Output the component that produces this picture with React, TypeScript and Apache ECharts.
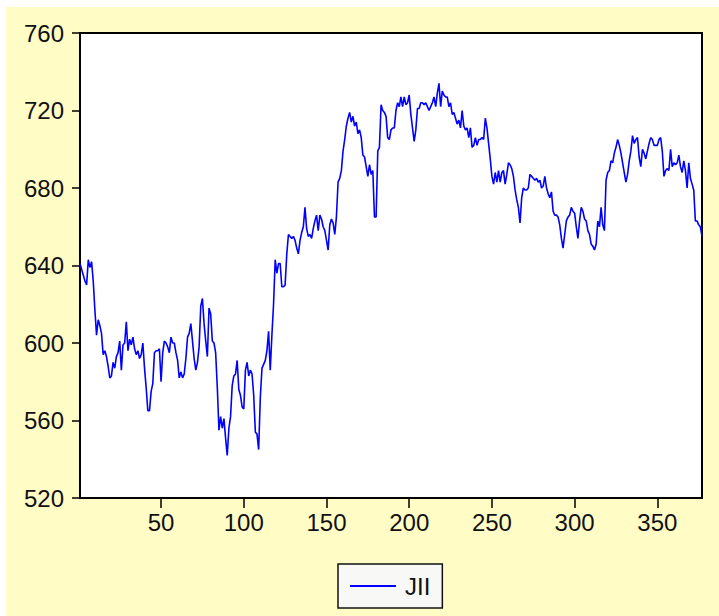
import React, { useEffect, useRef } from "react";
import * as echarts from "echarts";

const seriesName = "JII";
const xTicks = [50, 100, 150, 200, 250, 300, 350];
const yMin = 520;
const yMax = 760;
const yStep = 40;

const jii = [
  641, 638, 635, 632, 630, 643, 639, 642, 632, 617,
  604, 612, 609, 605, 594, 596, 593, 588, 582, 583,
  590, 587, 593, 595, 601, 586, 599, 600, 611, 596,
  602, 599, 603, 597, 594, 596, 592, 594, 600, 587,
  577, 565, 565, 575, 579, 595, 596, 596, 597, 580,
  595, 601, 600, 598, 595, 603, 600, 600, 595, 591,
  582, 585, 582, 584, 592, 603, 605, 610, 601, 592,
  586, 590, 598, 619, 623, 610, 601, 593, 618, 615,
  601, 600, 595, 577, 555, 562, 556, 561, 551, 542,
  556, 562, 578, 583, 584, 591, 576, 573, 567, 566,
  586, 590, 583, 586, 584, 573, 554, 553, 545, 572,
  587, 589, 591, 596, 606, 586, 604, 620, 643, 636,
  641, 641, 629, 629, 630, 646, 656, 655, 654, 655,
  653, 649, 646, 653, 657, 660, 670, 659, 655, 656,
  654, 659, 663, 666, 658, 666, 664, 660, 658, 653,
  648, 661, 664, 662, 656, 665, 683, 685, 689, 699,
  705, 712, 716, 719, 714, 717, 712, 714, 708, 710,
  706, 697, 696, 691, 686, 692, 687, 689, 665, 665,
  699, 701, 723, 720, 719, 717, 706, 705, 710, 711,
  711, 720, 724, 722, 727, 722, 727, 723, 724, 728,
  718, 711, 704, 710, 721, 721, 724, 724, 723, 724,
  722, 720, 722, 724, 727, 722, 729, 734, 722, 730,
  728, 727, 727, 722, 724, 718, 719, 716, 713, 715,
  711, 720, 712, 710, 711, 706, 711, 701, 702, 706,
  702, 705, 705, 706, 705, 716, 711, 703, 695, 686,
  682, 688, 683, 689, 683, 688, 689, 682, 687, 693,
  692, 690, 686, 679, 674, 670, 662, 675, 680, 679,
  679, 680, 687, 686, 685, 684, 685, 683, 684, 680,
  681, 686, 680, 677, 675, 678, 668, 666, 666, 665,
  661, 654, 649, 656, 663, 665, 666, 670, 668, 667,
  660, 654, 663, 670, 668, 664, 663, 658, 656, 651,
  650, 648, 651, 663, 660, 670, 661, 658, 684, 688,
  689, 694, 693, 698, 701, 705, 702, 698, 693, 688,
  683, 687, 694, 699, 707, 703, 705, 706, 696, 691,
  700, 698, 695, 699, 703, 706, 705, 702, 702, 702,
  705, 706, 699, 686, 689, 690, 689, 700, 691, 693,
  692, 693, 697, 691, 688, 694, 689, 680, 693, 685,
  682, 679, 663, 663, 661, 660, 655,
];

export default function App() {
  const ref = useRef<HTMLDivElement>(null);

  useEffect(() => {
    if (!ref.current) return;
    const chart = echarts.init(ref.current, null, { renderer: "svg" });
    const font = "'Liberation Sans', Arial, sans-serif";
    chart.setOption({
      animation: false,
      backgroundColor: "transparent",
      grid: {
        left: 80,
        top: 33,
        right: 17,
        bottom: 118,
        show: true,
        backgroundColor: "#ffffff",
        borderColor: "#000000",
        borderWidth: 2,
      },
      legend: {
        show: true,
        left: 338,
        top: 564,
        orient: "horizontal",
        padding: [10, 12, 10, 12],
        backgroundColor: "#f8f8f6",
        borderColor: "#111111",
        borderWidth: 1.5,
        borderRadius: 0,
        icon: "rect",
        itemWidth: 46,
        itemHeight: 2,
        data: [seriesName],
        itemStyle: { color: "#0000ff" },
        textStyle: {
          fontFamily: font,
          fontSize: 24,
          color: "#111111",
          padding: [0, 0, 0, 4],
        },
      },
      xAxis: {
        type: "value",
        min: 1,
        max: jii.length,
        splitLine: { show: false },
        axisLine: { show: true, lineStyle: { color: "#000", width: 2 } },
        axisTick: {
          show: true,
          length: 10,
          customValues: xTicks,
          lineStyle: { color: "#000", width: 1.5 },
        },
        axisLabel: {
          customValues: xTicks,
          margin: 12,
          fontFamily: font,
          fontSize: 24,
          color: "#111111",
        },
      },
      yAxis: {
        type: "value",
        min: yMin,
        max: yMax,
        interval: yStep,
        splitLine: { show: false },
        axisLine: { show: true, lineStyle: { color: "#000", width: 2 } },
        axisTick: {
          show: true,
          length: 8,
          lineStyle: { color: "#000", width: 1.5 },
        },
        axisLabel: {
          margin: 16,
          fontFamily: font,
          fontSize: 24,
          color: "#111111",
        },
      },
      series: [
        {
          name: seriesName,
          type: "line",
          symbol: "none",
          showSymbol: false,
          data: jii.map((v, i) => [i + 1, v]),
          lineStyle: { color: "#0000ff", width: 1.6 },
          itemStyle: { color: "#0000ff" },
        },
      ],
    });
    return () => chart.dispose();
  }, []);

  return (
    <div
      style={{
        position: "fixed",
        left: 0,
        top: 0,
        width: 719,
        height: 616,
        background: "#ffffff",
      }}
    >
      <div
        style={{
          position: "absolute",
          left: 6,
          top: 7,
          width: 713,
          height: 609,
          background: "#fffcc6",
        }}
      />
      <div
        ref={ref}
        style={{ position: "absolute", left: 0, top: 0, width: 719, height: 616 }}
      />
    </div>
  );
}
